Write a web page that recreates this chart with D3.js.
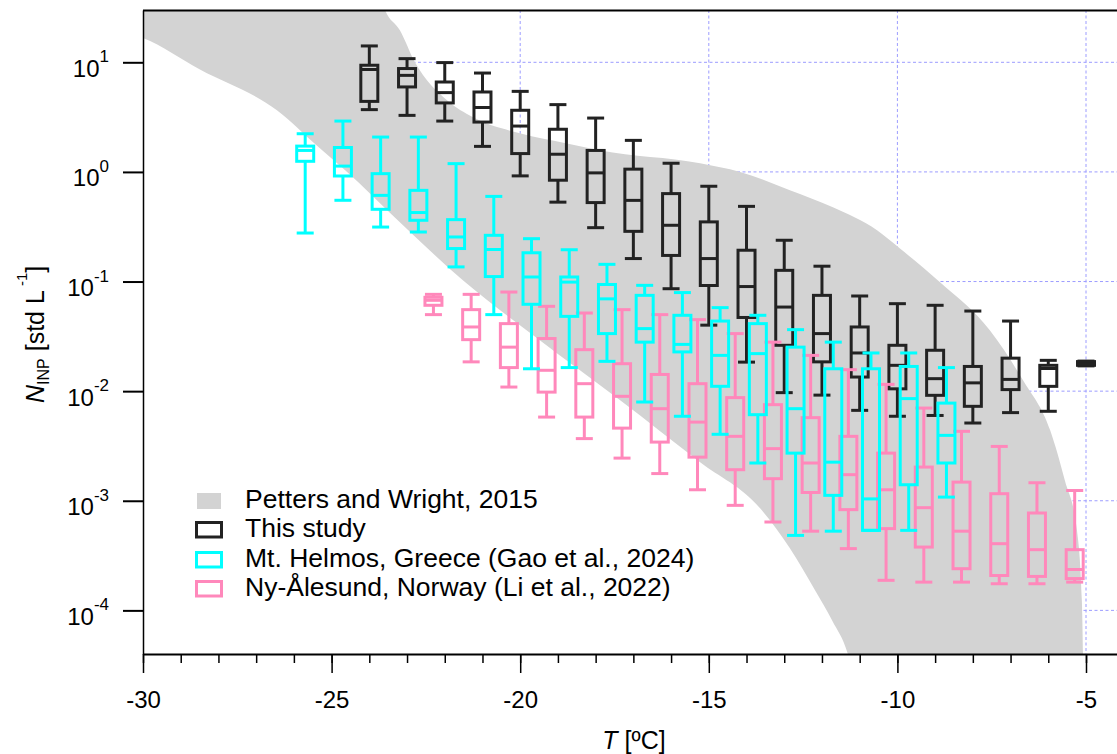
<!DOCTYPE html>
<html>
<head>
<meta charset="utf-8">
<script src="https://cdn.jsdelivr.net/npm/d3@7"></script>
<style>
  html, body { margin: 0; padding: 0; background: #ffffff; }
  svg { display: block; font-family: "Liberation Sans", Arial, Helvetica, sans-serif; }
</style>
</head>
<body>
<svg id="chart" width="1117" height="754"></svg>
<script>
// ---- This study: INP box statistics per freezing temperature ----
const blackT   = [-24, -23, -22, -21, -20, -19, -18, -17, -16, -15, -14, -13, -12, -11, -10, -9, -8, -7, -6, -5];
const blackMax = [14.1, 10.8, 9.94, 7.98, 5.43, 4.11, 3.10, 1.94, 1.20, 0.74, 0.485, 0.238, 0.138, 0.0738, 0.0628, 0.0607, 0.0538, 0.0436, 0.0191, 0.0188];
const blackQ3  = [9.4, 8.77, 6.61, 5.36, 3.65, 2.45, 1.57, 1.06, 0.634, 0.35, 0.193, 0.1265, 0.0748, 0.0385, 0.0262, 0.0236, 0.0168, 0.0200, 0.0172, 0.0186];
const blackMed = [8.6, 7.6, 5.29, 3.87, 2.62, 1.45, 0.98, 0.55, 0.326, 0.162, 0.090, 0.0585, 0.0335, 0.0223, 0.0172, 0.0130, 0.0119, 0.0128, 0.0161, 0.0178];
const blackQ1  = [4.4, 5.96, 4.26, 2.85, 1.47, 0.84, 0.525, 0.287, 0.173, 0.092, 0.047, 0.0262, 0.0185, 0.01345, 0.0105, 0.00916, 0.00727, 0.01033, 0.01106, 0.0172];
const blackMin = [3.7, 3.28, 2.91, 1.71, 0.92, 0.53, 0.31, 0.162, 0.086, 0.040, 0.0184, 0.00969, 0.0092, 0.00668, 0.0059, 0.0060, 0.00512, 0.00637, 0.00655, 0.0170];

// ---- Mt. Helmos, Greece (Gao et al., 2024) ----
const cyanT   = [-25.7, -24.7, -23.7, -22.7, -21.7, -20.7, -19.7, -18.7, -17.7, -16.7, -15.7, -14.7, -13.7, -12.7, -11.7, -10.7, -9.7, -8.7];
const cyanMax = [2.23, 2.91, 2.08, 2.08, 1.19, 0.598, 0.246, 0.195, 0.1435, 0.0923, 0.0793, 0.0578, 0.0492, 0.0364, 0.028, 0.0223, 0.0223, 0.0164];
const cyanQ3  = [1.72, 1.67, 0.964, 0.679, 0.367, 0.264, 0.183, 0.110, 0.094, 0.0748, 0.0492, 0.0436, 0.0413, 0.0252, 0.016, 0.016, 0.0168, 0.00778];
const cyanMed = [1.57, 1.13, 0.611, 0.426, 0.255, 0.196, 0.110, 0.0988, 0.0695, 0.0372, 0.0267, 0.0212, 0.022, 0.00692, 0.00225, 0.00104, 0.00855, 0.00395];
const cyanQ1  = [1.25, 0.918, 0.456, 0.362, 0.200, 0.111, 0.062, 0.0481, 0.0335, 0.028, 0.0228, 0.01107, 0.0061, 0.00272, 0.00112, 0.000537, 0.0014, 0.00221];
const cyanMin = [0.277, 0.551, 0.314, 0.283, 0.136, 0.0499, 0.016, 0.0164, 0.0187, 0.00796, 0.0059, 0.00404, 0.00221, 0.000483, 0.000528, 0.000537, 0.000537, 0.00108];

// ---- Ny-Ålesund, Norway (Li et al., 2022) ----
const pinkT   = [-22.3, -21.3, -20.3, -19.3, -18.3, -17.3, -16.3, -15.3, -14.3, -13.3, -12.3, -11.3, -10.3, -9.3, -8.3, -7.3, -6.3, -5.3];
const pinkMax = [0.0764, 0.0764, 0.0802, 0.0594, 0.0516, 0.0554, 0.0499, 0.0449, 0.0335, 0.028, 0.0212, 0.0157, 0.01153, 0.00701, 0.0043, 0.00313, 0.00146, 0.00124];
const pinkQ3  = [0.0718, 0.0554, 0.0413, 0.0302, 0.0239, 0.0178, 0.0142, 0.0117, 0.00873, 0.00753, 0.00573, 0.00387, 0.00272, 0.00203, 0.00148, 0.00116, 0.000773, 0.000358];
const pinkMed = [0.0674, 0.0385, 0.0252, 0.0155, 0.0117, 0.00897, 0.00692, 0.00522, 0.00387, 0.00299, 0.00221, 0.00173, 0.00126, 0.000865, 0.000528, 0.000406, 0.000358, 0.000236];
const pinkQ1  = [0.0607, 0.0295, 0.0164, 0.0098, 0.0058, 0.0046, 0.00343, 0.0025, 0.00192, 0.00159, 0.00119, 0.00083, 0.000557, 0.000378, 0.00024, 0.000208, 0.000204, 0.000195];
const pinkMin = [0.0499, 0.0185, 0.0109, 0.0058, 0.00369, 0.00245, 0.00177, 0.00126, 0.000908, 0.00064, 0.000528, 0.000366, 0.000188, 0.000181, 0.000181, 0.000175, 0.000175, 0.000181];

// ---- Petters and Wright (2015) envelope: upper and lower edges ----
const pwUpperT = [-30.5, -24.2, -23.85, -23.58, -23.19, -22.79, -21.94, -21.25, -20.01, -18.76, -17.88, -15.23, -14.17, -12.85, -11.71, -10.54, -9.94, -8.87, -7.55, -6.67, -5.95, -5.56, -5.24, -5.11, -5.08, -5.07];
const pwUpperN = [1000, 1000, 60, 29.8, 19.6, 10.0, 4.5, 3.15, 2.25, 1.82, 1.57, 1.2, 1.0, 0.68, 0.475, 0.293, 0.201, 0.0984, 0.0359, 0.01256, 0.00439, 0.00153, 0.000537, 0.000123, 0.0000397, 0.00002];
const pwLowerT = [-30.5, -30, -28.49, -26.45, -25.31, -24.64, -23.19, -21.52, -19.48, -17.35, -15.23, -13.64, -12.85, -12.18, -11.73, -11.31, -11.1];
const pwLowerN = [19, 16.7, 8.6, 3.65, 1.64, 1.035, 0.347, 0.1026, 0.0291, 0.00824, 0.00224, 0.000853, 0.000368, 0.000152, 0.000081, 0.0000397, 0.00002];

// ---- Axis ticks and legend labels ----
const xMajorTicks = [-30, -25, -20, -15, -10, -5];
const xMinorTicks = [-30, -29, -28, -27, -26, -25, -24, -23, -22, -21, -20, -19, -18, -17, -16, -15, -14, -13, -12, -11, -10, -9, -8, -7, -6, -5, -4];
const yTicks = [1e-4, 1e-3, 1e-2, 1e-1, 1, 10];
const yTickExp = ["-4", "-3", "-2", "-1", "0", "1"];
const legendLabels = ["Petters and Wright, 2015", "This study", "Mt. Helmos, Greece (Gao et al., 2024)", "Ny-Ålesund, Norway (Li et al., 2022)"];

// ---- Layout ----
const svg = d3.select("#chart");
const plotLeft = 143, plotTop = 10, plotBottom = 654;
const x = d3.scaleLinear().domain([-30, -4]).range([plotLeft, plotLeft + 26 * 37.72]);
const y = d3.scaleLog().domain([4e-5, 30]).range([plotBottom, plotTop]);
const plotRight = x(-4);

const colors = { black: "#222222", cyan: "#00ffff", pink: "#ff88bb", band: "#d3d3d3", grid: "#9c9cff" };

svg.append("defs").append("clipPath").attr("id", "plotClip")
  .append("rect").attr("x", plotLeft).attr("y", plotTop)
  .attr("width", plotRight - plotLeft).attr("height", plotBottom - plotTop);

const plot = svg.append("g").attr("clip-path", "url(#plotClip)");

// dashed grid
const grid = plot.append("g").attr("stroke", colors.grid).attr("stroke-width", 1).attr("stroke-dasharray", "3,2.5");
grid.selectAll("line.v").data(xMajorTicks).join("line").attr("class", "v")
  .attr("x1", d => x(d)).attr("x2", d => x(d)).attr("y1", plotTop).attr("y2", plotBottom);
grid.selectAll("line.h").data(yTicks).join("line").attr("class", "h")
  .attr("x1", plotLeft).attr("x2", plotRight).attr("y1", d => y(d)).attr("y2", d => y(d));

// parameterisation envelope: grey fill under the upper edge, white fill under the lower edge
const upperPts = pwUpperT.map((t, i) => [t, pwUpperN[i]]);
const lowerPts = pwLowerT.map((t, i) => [t, pwLowerN[i]]);
const fillUnder = d3.area()
  .x(d => x(d[0]))
  .y0(plotBottom + 40)
  .y1(d => y(d[1]))
  .curve(d3.curveMonotoneX);
plot.append("path").attr("d", fillUnder(upperPts)).attr("fill", colors.band);
plot.append("path").attr("d", fillUnder(lowerPts)).attr("fill", "#ffffff");

// box-and-whisker series
const boxW = 17;
function drawBoxes(T, mx, q3, med, q1, mn, color) {
  const rows = T.map((t, i) => ({ t, max: mx[i], q3: q3[i], med: med[i], q1: q1[i], min: mn[i] }));
  const g = plot.append("g").attr("stroke", color).attr("stroke-width", 3).attr("fill", "none");
  const b = g.selectAll("g").data(rows).join("g");
  b.append("line").attr("x1", d => x(d.t)).attr("x2", d => x(d.t)).attr("y1", d => y(d.max)).attr("y2", d => y(d.q3));
  b.append("line").attr("x1", d => x(d.t)).attr("x2", d => x(d.t)).attr("y1", d => y(d.q1)).attr("y2", d => y(d.min));
  b.append("line").attr("x1", d => x(d.t) - boxW / 2).attr("x2", d => x(d.t) + boxW / 2).attr("y1", d => y(d.max)).attr("y2", d => y(d.max));
  b.append("line").attr("x1", d => x(d.t) - boxW / 2).attr("x2", d => x(d.t) + boxW / 2).attr("y1", d => y(d.min)).attr("y2", d => y(d.min));
  b.append("rect").attr("x", d => x(d.t) - boxW / 2).attr("width", boxW)
    .attr("y", d => y(d.q3)).attr("height", d => Math.max(0.5, y(d.q1) - y(d.q3)));
  b.append("line").attr("x1", d => x(d.t) - boxW / 2).attr("x2", d => x(d.t) + boxW / 2).attr("y1", d => y(d.med)).attr("y2", d => y(d.med));
}
drawBoxes(blackT, blackMax, blackQ3, blackMed, blackQ1, blackMin, colors.black);
drawBoxes(pinkT, pinkMax, pinkQ3, pinkMed, pinkQ1, pinkMin, colors.pink);
drawBoxes(cyanT, cyanMax, cyanQ3, cyanMed, cyanQ1, cyanMin, colors.cyan);

// ---- Axes ----
const xMinor = svg.append("g").attr("transform", `translate(0,${plotBottom})`)
  .call(d3.axisBottom(x).tickValues(xMinorTicks).tickSize(9).tickSizeOuter(0).tickFormat(""));
xMinor.select(".domain").remove();
xMinor.selectAll(".tick line").attr("stroke", "#000").attr("stroke-width", 1.5);

const xMajor = svg.append("g").attr("transform", `translate(0,${plotBottom})`)
  .call(d3.axisBottom(x).tickValues(xMajorTicks).tickSize(19).tickSizeOuter(0).tickFormat(d => String(d)));
xMajor.select(".domain").attr("stroke", "#000").attr("stroke-width", 2);
xMajor.selectAll(".tick line").attr("stroke", "#000").attr("stroke-width", 1.5);
xMajor.selectAll(".tick text").attr("y", 54).attr("dy", 0)
  .attr("font-size", 24).attr("font-family", "Liberation Sans, Arial, sans-serif").attr("fill", "#000");

const yAx = svg.append("g").attr("transform", `translate(${plotLeft},0)`)
  .call(d3.axisLeft(y).tickValues(yTicks).tickSize(20).tickSizeOuter(0).tickFormat(""));
yAx.select(".domain").attr("stroke", "#000").attr("stroke-width", 1.5);
yAx.selectAll(".tick line").attr("stroke", "#000").attr("stroke-width", 2);

// power-of-ten tick labels
const yLab = svg.append("g").attr("font-size", 24).attr("fill", "#000");
yTicks.forEach((v, i) => {
  const t = yLab.append("text").attr("x", 109).attr("y", y(v) + 14.5).attr("text-anchor", "end");
  t.append("tspan").text("10");
  t.append("tspan").attr("font-size", 17).attr("dy", -14.5).text(yTickExp[i]);
});

// frame top
svg.append("line").attr("x1", plotLeft).attr("x2", plotRight).attr("y1", plotTop + 0.5).attr("y2", plotTop + 0.5)
  .attr("stroke", "#000").attr("stroke-width", 2);

// axis titles
const xt = svg.append("text").attr("x", 634).attr("y", 749).attr("text-anchor", "middle").attr("font-size", 25).attr("fill", "#000");
xt.append("tspan").attr("font-style", "italic").text("T");
xt.append("tspan").text(" [ºC]");

const yt = svg.append("text").attr("transform", "translate(44,403) rotate(-90)").attr("font-size", 25).attr("fill", "#000");
yt.append("tspan").attr("font-style", "italic").text("N");
yt.append("tspan").attr("font-size", 16).attr("dy", 5).text("INP");
yt.append("tspan").attr("dy", -5).text(" [std L");
yt.append("tspan").attr("font-size", 15).attr("dy", -17).text(" -1");
yt.append("tspan").attr("dy", 17).text("]");

// ---- Legend ----
const lg = svg.append("g");
const rowBase = [508, 537, 567, 596];
lg.append("rect").attr("x", 197).attr("y", rowBase[0] - 15).attr("width", 24).attr("height", 16).attr("fill", colors.band);
[colors.black, colors.cyan, colors.pink].forEach((c, i) => {
  lg.append("rect").attr("x", 196.5).attr("y", rowBase[i + 1] - 14.5).attr("width", 25).attr("height", 14.5)
    .attr("fill", "none").attr("stroke", c).attr("stroke-width", 3);
});
lg.selectAll("text").data(legendLabels).join("text")
  .attr("x", 245).attr("y", (d, i) => rowBase[i]).attr("font-size", 26.5).attr("fill", "#000").text(d => d);
</script>
</body>
</html>
